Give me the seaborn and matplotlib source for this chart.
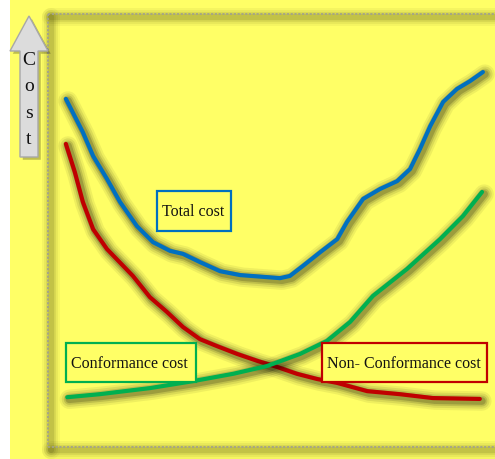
import matplotlib
matplotlib.use("Agg")
import matplotlib.pyplot as plt
import matplotlib.patheffects as pe
from matplotlib.patches import Polygon, Rectangle
import seaborn as sns

# Quality level (0-100) and relative cost (0-100) for each curve
total_x = [4.0, 7.8, 10.1, 13.2, 16.1, 19.9, 23.5, 27.3, 30.2, 34.0, 38.5, 43.0, 48.1,
           51.9, 54.1, 57.0, 60.9, 64.7, 66.9, 70.5, 74.3, 78.1, 81.0, 83.2, 85.5,
           88.4, 91.5, 94.4, 97.3]
total_y = [80.4, 72.7, 67.2, 61.9, 56.6, 51.0, 47.3, 45.3, 44.6, 42.7, 40.6, 39.7, 39.3,
           39.0, 39.5, 41.8, 45.0, 48.0, 52.0, 57.3, 59.6, 61.4, 64.2, 68.8, 74.1,
           79.7, 82.7, 84.5, 86.6]

nonconf_x = [4.0, 6.0, 7.8, 10.1, 13.2, 19.0, 22.8, 26.6, 30.2, 34.0, 37.8, 42.3, 46.8,
             51.2, 55.7, 60.2, 64.7, 71.4, 78.7, 86.1, 96.6]
nonconf_y = [70.0, 63.5, 56.6, 50.3, 45.7, 39.5, 34.6, 31.2, 27.7, 24.9, 23.3, 21.5, 19.9,
             18.5, 16.9, 15.7, 14.8, 12.9, 12.2, 11.3, 11.1]

conf_x = [4.3, 11.6, 22.8, 32.4, 41.4, 49.0, 56.4, 62.4, 67.6, 72.7, 80.3, 87.7, 92.8, 97.1]
conf_y = [11.5, 12.2, 13.6, 15.2, 16.9, 18.7, 21.5, 24.5, 28.9, 34.9, 41.1, 48.0, 53.3, 58.9]

labels = ["Total cost", "Conformance cost", "Non- Conformance cost"]
axis_word = "Cost"

YELLOW = "#FFFF66"
BLUE = "#0070C0"
RED = "#C00000"
GREEN = "#00B050"

W, H = 495, 460

sns.set_style("white")
plt.rcParams["font.family"] = ["Liberation Serif", "DejaVu Serif"]

fig = plt.figure(figsize=(W / 100, H / 100), dpi=100)
fig.patch.set_facecolor("white")

# Background layer in pixel units
bg = fig.add_axes([0, 0, 1, 1])
bg.set_xlim(0, W)
bg.set_ylim(H, 0)
bg.axis("off")
bg.add_patch(Rectangle((10, 0), W - 10, H, facecolor=YELLOW, edgecolor="none", zorder=0))


def blur_stack(lw, offset=(1.5, -1.5), strength=1.0, color="black", keep=True):
    layers = [(11, 0.05), (8, 0.07), (5, 0.10), (2.5, 0.14)]
    eff = [pe.Stroke(linewidth=lw + extra, foreground=color, alpha=a * strength, offset=offset)
           for extra, a in layers]
    if keep:
        eff.append(pe.Normal())
    return eff


# Plot frame: soft olive shadow band under a fine dotted grey border
frame_lines = [((48, 505), (15, 15)), ((48, 48), (15, 448)), ((48, 505), (448, 448))]
for xs, ys in frame_lines:
    bg.plot(xs, ys, color="#8a8a50", lw=2, alpha=0.0, zorder=1,
            path_effects=blur_stack(2, offset=(2.5, -2.5), strength=0.95,
                                    color="#3a3a00", keep=False))
for xs, ys in frame_lines:
    bg.plot(xs, ys, color="#A3A38A", lw=1.3, ls=(0, (1.2, 0.9)), zorder=1.5,
            solid_capstyle="butt")

# Vertical "Cost" arrow
arrow = Polygon([(29, 17), (48, 52), (38, 52), (38, 158), (20, 158), (20, 52), (10, 52)],
                closed=True, facecolor="#DCDCDC", edgecolor="#A8A8A8", lw=1, zorder=2,
                path_effects=[pe.SimplePatchShadow(offset=(2, -2), shadow_rgbFace="black",
                                                   alpha=0.25), pe.Normal()])
bg.add_patch(arrow)
bg.text(29, 100, "\n".join(axis_word), ha="center", va="center", fontsize=14,
        linespacing=1.7, color="#111111", zorder=3)

# Data layer over the framed area
ax = fig.add_axes([48 / W, 1 - 448 / H, (W - 48) / W, 433 / H])
ax.set_xlim(0, 100)
ax.set_ylim(0, 100)
ax.patch.set_alpha(0)
ax.axis("off")

lw = 3.0
for xs, ys, col in [(nonconf_x, nonconf_y, RED), (conf_x, conf_y, GREEN),
                    (total_x, total_y, BLUE)]:
    sns.lineplot(x=xs, y=ys, ax=ax, color=col, lw=lw, legend=False,
                 solid_capstyle="round", solid_joinstyle="round",
                 path_effects=blur_stack(lw, strength=1.25))

# Curve labels in outlined boxes (pixel placement)
boxes = [
    (labels[0], (157, 192, 74, 40), BLUE, 162, 212),
    (labels[1], (66, 344, 130, 39), GREEN, 71, 364),
    (labels[2], (322, 344, 165, 39), RED, 327, 364),
]
for text, (x0, y0, w, h), col, tx, ty in boxes:
    ax.add_patch(Rectangle((x0, y0), w, h, facecolor=YELLOW, edgecolor=col, lw=1.6,
                           transform=bg.transData, clip_on=False, zorder=5))
    ax.text(tx, ty, text, transform=bg.transData, ha="left", va="center",
            fontsize=11.5, color="#111111", zorder=6, clip_on=False)

fig.savefig("out.png", dpi=100, facecolor=fig.get_facecolor())
